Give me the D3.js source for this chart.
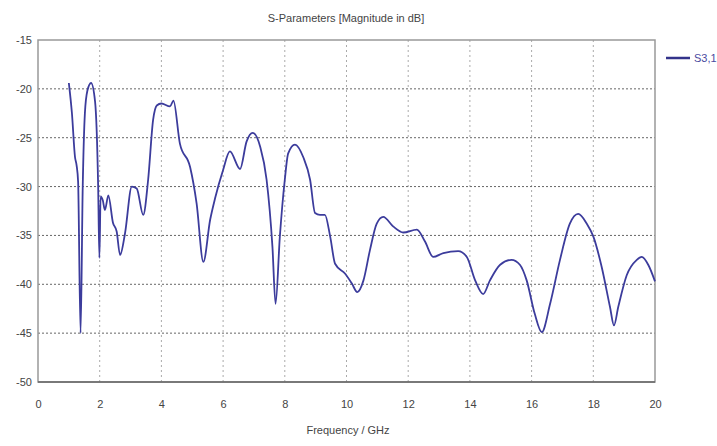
<!DOCTYPE html>
<html>
<head>
<meta charset="utf-8">
<script src="https://cdn.jsdelivr.net/npm/d3@7"></script>
<style>
  body { margin: 0; background: #fff; }
  text { font-family: "Liberation Sans", Arial, sans-serif; fill: #444; }
</style>
</head>
<body>
<svg id="chart" width="717" height="446"></svg>
<script>
// S3,1 magnitude
var freq = [1.0, 1.1, 1.2, 1.25, 1.3, 1.38, 1.45, 1.52, 1.6, 1.72, 1.85, 1.95, 1.99, 2.03, 2.1, 2.17, 2.28,
  2.43, 2.55, 2.66, 2.82, 3.04, 3.2, 3.41, 3.57, 3.73, 3.85, 4.0, 4.28, 4.39, 4.6, 4.93, 5.14, 5.36,
  5.58, 5.74, 6.0, 6.22, 6.55, 6.76, 6.96, 7.2, 7.41, 7.6, 7.7, 7.84, 8.0, 8.11, 8.33, 8.6, 8.82, 8.98,
  9.14, 9.3, 9.47, 9.63, 9.95, 10.17, 10.35, 10.55, 10.76, 10.98, 11.19, 11.52, 11.84, 12.28, 12.54,
  12.81, 13.14, 13.62, 13.9, 14.17, 14.43, 14.65, 14.98, 15.35, 15.62, 15.84, 16.1, 16.33, 16.6, 16.92,
  17.24, 17.51, 17.79, 18.0, 18.27, 18.54, 18.67, 18.81, 19.08, 19.41, 19.57, 19.78, 20.0];
var s31 = [-19.4, -22.5, -27.0, -27.8, -29.5, -45.0, -30.0, -22.5, -20.2, -19.4, -21.3, -30.0, -37.3, -31.0, -31.4, -32.4, -30.9,
  -33.7, -34.6, -37.0, -34.8, -30.0, -30.2, -32.9, -29.3, -23.2, -21.7, -21.5, -21.8, -21.2, -25.6, -28.0, -31.7, -37.7,
  -33.4, -31.2, -28.3, -26.4, -28.2, -25.4, -24.5, -25.9, -29.3, -36.2, -42.0, -35.1, -29.3, -26.6, -25.7, -27.0, -29.3, -32.7,
  -32.9, -32.9, -35.1, -37.9, -38.9, -39.9, -40.8, -39.6, -36.5, -33.8, -33.1, -34.1, -34.7, -34.4, -35.6,
  -37.2, -36.8, -36.6, -37.2, -39.6, -41.0, -39.6, -38.0, -37.5, -38.0, -39.6, -43.0, -44.9, -42.0, -37.5,
  -33.8, -32.8, -33.8, -35.1, -38.2, -42.3, -44.2, -42.3, -39.1, -37.5, -37.2, -38.0, -39.7];
var xTicks = [0, 2, 4, 6, 8, 10, 12, 14, 16, 18, 20];
var yTicks = [-15, -20, -25, -30, -35, -40, -45, -50];

var svg = d3.select("#chart");
var plotLeft = 38, plotRight = 655, plotTop = 40, plotBottom = 382;

var x = d3.scaleLinear().domain([0, 20]).range([plotLeft, plotRight]);
var y = d3.scaleLinear().domain([-50, -15]).range([plotBottom, plotTop]);

// grid
svg.append("g").selectAll("line").data(xTicks.slice(1, -1)).join("line")
  .attr("x1", (d) => x(d)).attr("x2", (d) => x(d))
  .attr("y1", plotTop).attr("y2", plotBottom)
  .attr("stroke", "#aaa").attr("stroke-dasharray", "2,3");
svg.append("g").selectAll("line").data(yTicks.slice(1, -1)).join("line")
  .attr("x1", plotLeft).attr("x2", plotRight)
  .attr("y1", (d) => y(d)).attr("y2", (d) => y(d))
  .attr("stroke", "#666").attr("stroke-dasharray", "2,2");

// frame
svg.append("rect").attr("x", plotLeft).attr("y", plotTop)
  .attr("width", plotRight - plotLeft).attr("height", plotBottom - plotTop)
  .attr("fill", "none").attr("stroke", "#999").attr("stroke-width", 1.5);
svg.append("line").attr("x1", plotLeft).attr("x2", plotRight)
  .attr("y1", plotBottom).attr("y2", plotBottom)
  .attr("stroke", "#666").attr("stroke-width", 1.5);

// axes (plain hyphen minus like the original)
var xAxis = d3.axisBottom(x).tickValues(xTicks).tickSize(0).tickPadding(18)
  .tickFormat((d) => String(d));
var yAxis = d3.axisLeft(y).tickValues(yTicks).tickSize(0).tickPadding(6)
  .tickFormat((d) => String(d));
svg.append("g").attr("transform", "translate(0," + plotBottom + ")").call(xAxis)
  .call((g) => g.select(".domain").remove())
  .selectAll("text").style("font-size", "11px");
svg.append("g").attr("transform", "translate(" + plotLeft + ",0)").call(yAxis)
  .call((g) => g.select(".domain").remove())
  .selectAll("text").style("font-size", "11px");
svg.selectAll(".tick text").attr("font-family", null);

// curve
var line = d3.line()
  .x((d, i) => x(freq[i]))
  .y((d) => y(d))
  .curve(d3.curveMonotoneX);
svg.append("path").datum(s31)
  .attr("d", line)
  .attr("fill", "none")
  .attr("stroke", "#3c3c9c")
  .attr("stroke-width", 1.8);

// labels
svg.append("text").attr("x", 346).attr("y", 22).attr("text-anchor", "middle")
  .style("font-size", "11px").text("S-Parameters [Magnitude in dB]");
svg.append("text").attr("x", 348).attr("y", 434).attr("text-anchor", "middle")
  .style("font-size", "11px").text("Frequency / GHz");

// legend
svg.append("line").attr("x1", 666).attr("x2", 690).attr("y1", 58).attr("y2", 58)
  .attr("stroke", "#33338a").attr("stroke-width", 2.5);
svg.append("text").attr("x", 694).attr("y", 62)
  .style("font-size", "11px").style("fill", "#4a4aa0").text("S3,1");
</script>
</body>
</html>
